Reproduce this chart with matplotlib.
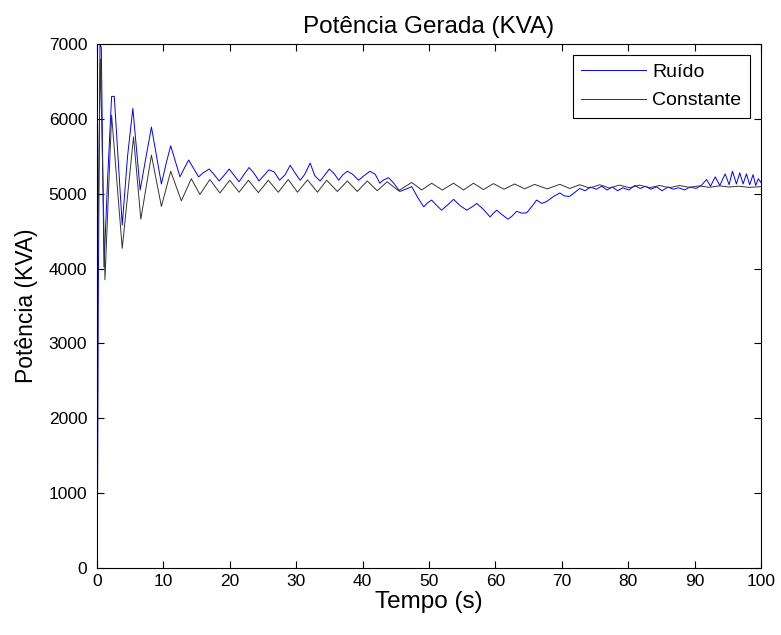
import matplotlib
matplotlib.use("Agg")
import matplotlib.pyplot as plt

plt.rcParams['font.family'] = ['Liberation Sans', 'DejaVu Sans']

# Ruido (blue), peaks/troughs plus noise points
t_ruido = [0, 0.1, 0.2, 0.45, 0.65, 1.05, 1.6, 2.2, 2.6, 3.8, 4.6, 5.4, 6.5, 7.4, 8.2, 9.7,
           10.4, 11.1, 12.5, 13.2, 13.8, 15.3, 16.0, 16.9, 17.6, 18.4, 19.0, 19.9, 20.6, 21.4,
           22.0, 22.9, 23.6, 24.4, 25.1, 25.9, 26.7, 27.5, 28.3, 29.1, 29.8, 30.6, 31.3, 32.1,
           32.8, 33.6, 34.3, 35.0, 35.7, 36.4, 37.0, 37.7, 38.5, 39.4, 40.2, 41.1, 41.9, 42.6,
           43.1, 43.9, 44.7, 45.6, 46.5, 47.4, 48.3, 49.2, 49.8, 50.4, 51.2, 51.9, 52.8, 53.7,
           54.7, 55.7, 56.4, 57.2, 58.2, 59.2, 59.7, 60.2, 61.0, 61.9, 62.5, 63.2, 64.0, 64.7,
           65.5, 66.2, 67.0, 67.7, 68.7, 69.7, 70.4, 71.2, 72.0, 72.7, 73.5, 74.3, 75.2, 76.0,
           76.8, 77.6, 78.4, 79.2, 80.1, 81.0, 81.8, 82.6, 83.4, 84.3, 85.1, 86.0, 86.8, 87.6,
           88.5, 89.3, 90.2, 91.0, 91.8, 92.4, 93.1, 93.8, 94.6, 95.2, 95.7, 96.3, 96.8, 97.3,
           97.8, 98.3, 98.8, 99.2, 99.6, 100]
v_ruido = [0, 1200, 3700, 7000, 6950, 4020, 5200, 6300, 6300, 4580, 5500, 6140, 5050, 5500, 5890, 5130,
           5400, 5640, 5225, 5350, 5450, 5225, 5280, 5330, 5260, 5170, 5230, 5330, 5250, 5160,
           5240, 5350, 5280, 5170, 5240, 5320, 5290, 5180, 5250, 5380, 5280, 5180, 5260, 5410,
           5240, 5170, 5250, 5330, 5270, 5180, 5250, 5300, 5260, 5180, 5240, 5300, 5260, 5140,
           5180, 5215, 5140, 5030, 5060, 5095, 4950, 4825, 4880, 4915, 4840, 4780, 4850, 4925,
           4840, 4780, 4820, 4870, 4790, 4690, 4740, 4780, 4720, 4660, 4700, 4765, 4740, 4745,
           4830, 4915, 4870, 4895, 4960, 5010, 4970, 4965, 5020, 5070, 5040, 5090, 5060, 5100,
           5050, 5090, 5040, 5080, 5050, 5110, 5070, 5100, 5060, 5090, 5040, 5090, 5060, 5080,
           5050, 5090, 5070, 5110, 5190, 5100, 5225, 5110, 5265, 5120, 5300, 5130, 5280, 5130,
           5265, 5120, 5255, 5110, 5200, 5150]

# Constante (black)
t_const = [0, 0.5, 1.2, 2.2, 3.8, 5.5, 6.6, 8.2, 9.7, 11.1, 12.7, 14.2, 15.5, 17.0, 18.5, 20.0,
           21.4, 22.8, 24.3, 25.8, 27.3, 28.8, 30.2, 31.7, 33.2, 34.6, 36.2, 37.7, 39.2, 40.7,
           42.2, 43.7, 45.4, 47.4, 48.9, 50.4, 52.0, 53.7, 55.2, 56.7, 58.2, 59.7, 61.3, 62.9,
           64.4, 65.9, 67.8, 69.7, 71.2, 72.7, 74.2, 75.7, 77.2, 78.7, 80.2, 81.7, 83.2, 84.7,
           86.2, 87.7, 89.2, 90.7, 92.2, 93.7, 95.2, 96.7, 98.2, 100]
v_const = [3700, 6800, 3850, 6050, 4270, 5760, 4660, 5515, 4830, 5300, 4905, 5200, 4990, 5190, 5010, 5180,
           5020, 5180, 5015, 5180, 5020, 5190, 5020, 5185, 5020, 5180, 5030, 5170, 5030, 5170,
           5040, 5160, 5040, 5150, 5050, 5140, 5050, 5140, 5050, 5140, 5055, 5135, 5060, 5130,
           5065, 5125, 5065, 5125, 5070, 5120, 5075, 5120, 5075, 5115, 5080, 5115, 5080, 5110,
           5080, 5110, 5085, 5105, 5085, 5105, 5090, 5100, 5085, 5095]

x_ticks = [0, 10, 20, 30, 40, 50, 60, 70, 80, 90, 100]
y_ticks = [0, 1000, 2000, 3000, 4000, 5000, 6000, 7000]

fig = plt.figure(figsize=(7.81, 6.35), dpi=100)
ax = fig.add_axes([0.1242, 0.1055, 0.8502, 0.8252])

ax.plot(t_ruido, v_ruido, color='#0000ff', lw=0.7, label='Ruído')
ax.plot(t_const, v_const, color='#333333', lw=0.7, label='Constante')

ax.set_xlim(0, 100)
ax.set_ylim(0, 7000)
ax.set_xticks(x_ticks)
ax.set_yticks(y_ticks)
ax.tick_params(direction='in', top=True, right=True, length=5, width=0.8, labelsize=12.5)
ax.tick_params(axis='x', pad=4)
ax.tick_params(axis='y', pad=7)
for s in ax.spines.values():
    s.set_linewidth(0.8)

ax.set_title('Potência Gerada (KVA)', fontsize=17.5, pad=8)
ax.set_xlabel('Tempo (s)', fontsize=17.5, labelpad=2)
ax.set_ylabel('Potência (KVA)', fontsize=16.5, labelpad=8)

leg = ax.legend(loc='upper right', fontsize=14, fancybox=False, edgecolor='black',
                framealpha=1, handlelength=3.3, handletextpad=0.35, labelspacing=0.55,
                borderpad=0.45, borderaxespad=0.55)
leg.get_frame().set_linewidth(0.8)

fig.savefig('out.png', dpi=100)
